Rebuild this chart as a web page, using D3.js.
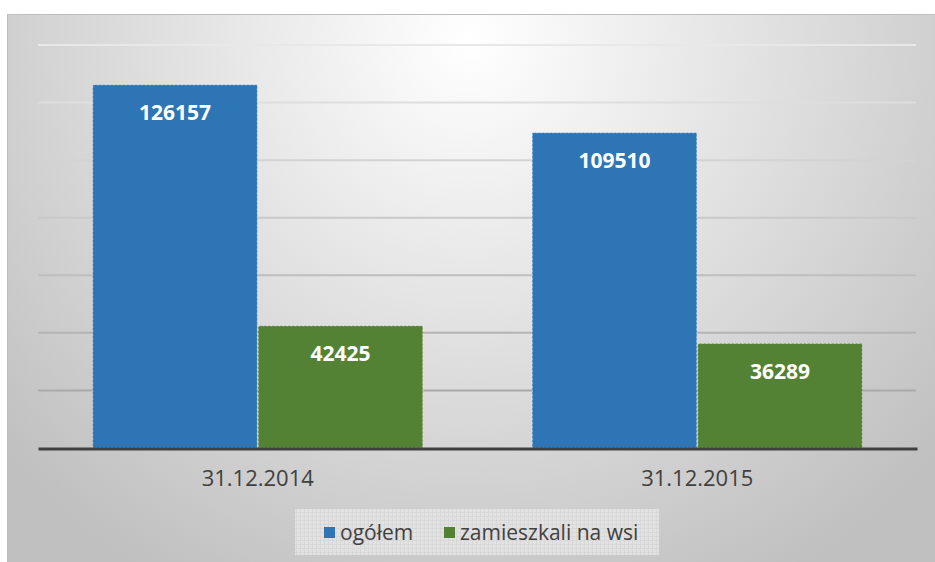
<!DOCTYPE html>
<html>
<head>
<meta charset="utf-8">
<script src="https://cdn.jsdelivr.net/npm/d3@7"></script>
<style>
  body { margin: 0; background: #fff; }
  text { font-family: 'Open Sans', sans-serif; }
</style>
</head>
<body>
<script>
// data
let categories = ['31.12.2014', '31.12.2015']
let seriesNames = ['ogółem', 'zamieszkali na wsi']
let ogolem = [126157, 109510]
let naWsi = [42425, 36289]
let yTicks = [0, 20000, 40000, 60000, 80000, 100000, 120000, 140000]

let colors = ['#2e75b6', '#548235']

let m = { width: 935, height: 562, left: 38, right: 917, top: 45, bottom: 448 }

let svg = d3.select('body')
  .append('svg')
  .attr('width', m.width)
  .attr('height', m.height)

// background gradient of the chart area
let defs = svg.append('defs')
let grad = defs.append('radialGradient')
  .attr('id', 'bg')
  .attr('gradientUnits', 'userSpaceOnUse')
  .attr('cx', 470).attr('cy', 40).attr('r', 620)
grad.append('stop').attr('offset', '0%').attr('stop-color', '#ffffff')
grad.append('stop').attr('offset', '100%').attr('stop-color', '#c0c0c0')

let pat = defs.append('pattern')
  .attr('id', 'legpat')
  .attr('width', 4).attr('height', 4)
  .attr('patternUnits', 'userSpaceOnUse')
pat.append('rect').attr('width', 4).attr('height', 4).attr('fill', '#e6e6e6')
pat.append('path').attr('d', 'M0,0.5H4M0.5,0V4').attr('stroke', '#dadada').attr('stroke-width', 1)

svg.append('rect')
  .attr('x', 7.5).attr('y', 14.5)
  .attr('width', 940).attr('height', 560)
  .attr('fill', 'url(#bg)')
  .attr('stroke', '#bdbdbd')

let xScale = d3.scaleBand()
  .domain(categories)
  .range([m.left, m.right])
  .paddingInner(0.247)
  .paddingOuter(0.1235)

let xSub = d3.scaleBand()
  .domain(seriesNames)
  .range([0, xScale.bandwidth()])

let yScale = d3.scaleLinear()
  .domain([0, 140000])
  .range([m.bottom, m.top])

// gridlines, lighter at the top
let gridColor = d3.scaleLinear().domain([140000, 20000]).range(['#e8e8e8', '#a9a9a9'])
svg.append('g')
  .selectAll('line')
  .data(yTicks.slice(1))
  .enter()
  .append('line')
    .attr('x1', m.left).attr('x2', m.right - 1)
    .attr('y1', function(d) { return yScale(d) })
    .attr('y2', function(d) { return yScale(d) })
    .attr('stroke', function(d) { return gridColor(d) })
    .attr('stroke-width', 2)

// bars
let rows = []
categories.forEach(function(c, i) {
  rows.push({ cat: c, series: seriesNames[0], value: ogolem[i], color: colors[0] })
  rows.push({ cat: c, series: seriesNames[1], value: naWsi[i], color: colors[1] })
})

svg.append('g')
  .selectAll('rect')
  .data(rows)
  .enter()
  .append('rect')
    .attr('x', function(d) { return xScale(d.cat) + xSub(d.series) + 0.5 })
    .attr('y', function(d) { return yScale(d.value) })
    .attr('width', xSub.bandwidth() - 1)
    .attr('height', function(d) { return yScale(0) - yScale(d.value) })
    .attr('fill', function(d) { return d.color })
    .attr('stroke', 'rgba(255,255,255,0.45)')
    .attr('stroke-dasharray', '2,2')

svg.append('g')
  .selectAll('text')
  .data(rows)
  .enter()
  .append('text')
    .attr('x', function(d) { return xScale(d.cat) + xSub(d.series) + xSub.bandwidth() / 2 })
    .attr('y', function(d) { return yScale(d.value) + 35 })
    .attr('text-anchor', 'middle')
    .attr('fill', '#fff')
    .style('font-weight', 'bold')
    .style('font-size', '21px')
    .text(function(d) { return d.value })

// x axis
let xAxis = d3.axisBottom(xScale).tickSize(0).tickPadding(22)
let gx = svg.append('g')
  .attr('transform', 'translate(0,' + (m.bottom + 0.5) + ')')
  .call(xAxis)
gx.select('.domain').attr('stroke', '#404040').attr('stroke-width', 3)
gx.selectAll('text')
  .attr('fill', '#404040')
  .style('font-size', '22px')
  .style('font-family', "'Open Sans', sans-serif")

// legend
let leg = svg.append('g')
leg.append('rect')
  .attr('x', 295).attr('y', 509)
  .attr('width', 364).attr('height', 46)
  .attr('fill', 'url(#legpat)')
  .attr('opacity', 0.85)

let legX = [324, 444]
seriesNames.forEach(function(s, i) {
  leg.append('rect')
    .attr('x', legX[i]).attr('y', 527)
    .attr('width', 11).attr('height', 11)
    .attr('fill', colors[i])
  leg.append('text')
    .attr('x', legX[i] + 16).attr('y', 540)
    .attr('fill', '#404040')
    .style('font-size', '21px')
    .text(s)
})
</script>
</body>
</html>
